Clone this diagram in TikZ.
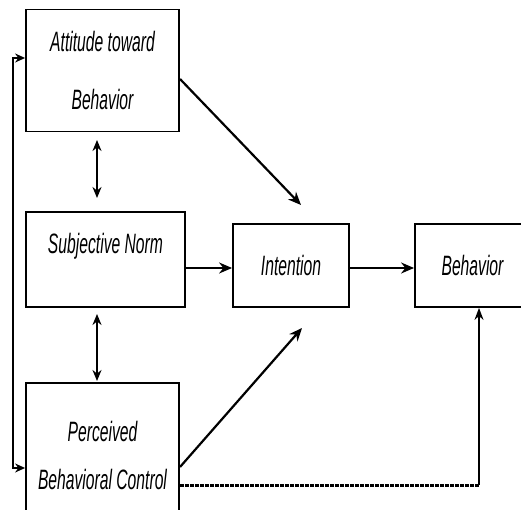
\documentclass[tikz,border=0pt]{standalone}
\usepackage{fontspec}
\newfontfamily\narrowsans[FakeStretch=0.56]{Liberation Sans}
\usetikzlibrary{arrows.meta,calc}
\begin{document}
\begin{tikzpicture}[x=1pt,y=-1pt,
  box/.style={draw, line width=1.8pt, inner sep=0pt, align=center,
    font=\narrowsans\itshape\fontsize{28}{32}\selectfont, text=black},
  arr/.style={line width=2.2pt, -{Stealth[length=13pt,width=11pt]}},
  darr/.style={line width=1.8pt, {Stealth[length=11pt,width=9pt]}-{Stealth[length=11pt,width=9pt]}},
  fb/.style={line width=1.4pt, {Stealth[length=10pt,width=9pt]}-{Stealth[length=10pt,width=9pt]}}]
\useasboundingbox (0,0) rectangle (521,510);
\fill[white] (0,0) rectangle (521,510);

\node[box, minimum width=153pt, minimum height=122pt] (att) at (102.5,70.5) {Attitude toward\\[26pt]Behavior};
\node[box, minimum width=159pt, minimum height=95pt] (sn) at (105.5,259.5) {Subjective Norm\\[-10pt]\strut};
\node[box, minimum width=153pt, minimum height=144pt] (pbc) at (102.5,455) {Perceived\\[16pt]Behavioral Control};
\node[box, minimum width=116pt, minimum height=83pt] (int) at (291,265.5) {Intention};
\node[box, minimum width=115pt, minimum height=83pt] (beh) at (472.5,265.5) {Behavior};

% feedback line on the left
\coordinate (fbtop) at (13,58);
\coordinate (fbbot) at (13,468);
\draw[fb] (att.west |- fbtop) -- (fbtop) -- (fbbot) -- (pbc.west |- fbbot);

% double arrows between the antecedents
\coordinate (d1a) at (97,140);
\coordinate (d1b) at (97,198);
\coordinate (d2a) at (97,314);
\coordinate (d2b) at (97,381);
\draw[darr] (d1a) -- (d1b);
\draw[darr] (d2a) -- (d2b);

% paths to intention
\coordinate (attout) at (180,79);
\coordinate (intin1) at (301,205);
\draw[arr] (attout) -- (intin1);
\coordinate (ay) at (0,268);
\draw[arr] (sn.east |- ay) -- (int.west |- ay);
\coordinate (pbcout) at (180,467);
\coordinate (intin2) at (302,328);
\draw[arr] (pbcout) -- (intin2);

% intention to behavior
\draw[arr] (int.east |- ay) -- (beh.west |- ay);

% perceived control to behavior
\coordinate (dstart) at (180,485);
\coordinate (dcorner) at (479,485);
\draw[line width=3pt, dash pattern=on 4pt off 1pt] (dstart) -- (dcorner);
\draw[line width=1.4pt, -{Stealth[length=12pt,width=9pt]}] (dcorner) -- (beh.south -| dcorner);
\end{tikzpicture}
\end{document}
